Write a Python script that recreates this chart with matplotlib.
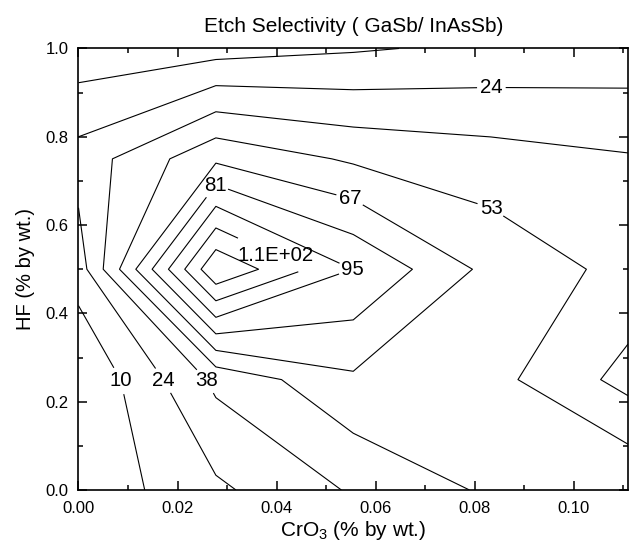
import matplotlib.pyplot as plt
import numpy as np
from matplotlib.ticker import MultipleLocator, FormatStrFormatter

plt.rcParams['font.family'] = ['Liberation Sans', 'DejaVu Sans']
plt.rcParams['mathtext.fontset'] = 'custom'
plt.rcParams['mathtext.rm'] = 'Liberation Sans'
plt.rcParams['mathtext.it'] = 'Liberation Sans'

# measurement grid
cro3 = [0.0, 0.02775, 0.0555, 0.08325, 0.111]
hf = [0.0, 0.25, 0.5, 0.75, 1.0]

# etch selectivity GaSb/InAsSb, one row per HF concentration
sel_hf_000 = [-0.7, 21.5, 40.0, 54.9, 66.0]
sel_hf_025 = [-4.0, 41.7, 64.5, 57.3, 33.7]
sel_hf_050 = [16.9, 136.5, 95.0, 62.5, 48.3]
sel_hf_075 = [30.0, 64.0, 50.5, 44.7, 39.7]
sel_hf_100 = [1.0, 4.0, 8.5, 13.0, 15.5]

levels = [10.0, 24.2, 38.4, 52.6, 66.8, 81.0, 95.2, 109.4, 123.6]

# where the level labels sit
label_spots = [(0.0087, 0.249), (0.0173, 0.249), (0.026, 0.249),
               (0.0278, 0.687), (0.0548, 0.657), (0.0554, 0.5),
               (0.0403, 0.545), (0.0834, 0.639), (0.0834, 0.906)]

z = np.array([sel_hf_000, sel_hf_025, sel_hf_050, sel_hf_075, sel_hf_100])

fig = plt.figure(figsize=(6.29, 5.49), dpi=100)
ax = fig.add_axes([0.1248, 0.1075, 0.8736, 0.8042])

cs = ax.contour(cro3, hf, z, levels=levels, colors='black', linewidths=0.8)


def fmt(v):
    if v >= 100:
        return f'{v:.1E}'
    return f'{v:.0f}'


labels = ax.clabel(cs, fmt=fmt, fontsize=14.7, inline=True,
                   inline_spacing=3, manual=label_spots)
for t in labels:
    t.set_rotation(0)

ax.set_xlim(0, 0.111)
ax.set_ylim(0, 1.0)
ax.xaxis.set_major_locator(MultipleLocator(0.02))
ax.xaxis.set_minor_locator(MultipleLocator(0.01))
ax.yaxis.set_major_locator(MultipleLocator(0.2))
ax.yaxis.set_minor_locator(MultipleLocator(0.1))
ax.xaxis.set_major_formatter(FormatStrFormatter('%.2f'))
ax.yaxis.set_major_formatter(FormatStrFormatter('%.1f'))
ax.tick_params(which='both', direction='in', top=True, right=True,
               width=1.1, labelsize=12)
ax.tick_params(axis='x', which='major', length=6.3, pad=8)
ax.tick_params(axis='y', which='major', length=6.3, pad=7)
ax.tick_params(which='minor', length=3.4)
for s in ax.spines.values():
    s.set_linewidth(1.2)

ax.set_title('Etch Selectivity ( GaSb/ InAsSb)', fontsize=15, pad=12)
ax.set_xlabel('CrO$_3$ (% by wt.)', fontsize=15, labelpad=2)
ax.set_ylabel('HF (% by wt.)', fontsize=14.5, labelpad=8)

fig.savefig('out.png', dpi=100)
